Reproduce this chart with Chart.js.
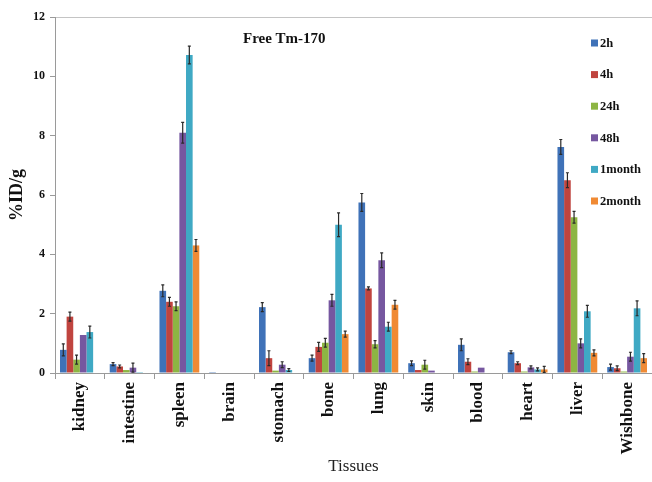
<!DOCTYPE html>
<html>
<head>
<meta charset="utf-8">
<title>Free Tm-170 biodistribution</title>
<script src="https://cdn.jsdelivr.net/npm/chart.js@4.4.1/dist/chart.umd.min.js"></script>
<style>
  html, body { margin: 0; padding: 0; background: #fff; }
  #wrap { width: 652px; height: 482px; }
</style>
</head>
<body>
<div id="wrap"><canvas id="bio" width="652" height="482"></canvas></div>
<script>
const tissues = ['kidney','intestine','spleen','brain','stomach','bone','lung','skin','blood','heart','liver','Wishbone'];
const timepoints = ['2h','4h','24h','48h','1month','2month'];
const colors = ['#3F72B8','#C0443F','#8DB543','#7657A0','#3FA9C4','#F08A34'];

// %ID/g per tissue, one array per timepoint
const v2h     = [0.78, 0.30, 2.77, 0.03, 2.22, 0.50, 5.75, 0.33, 0.95, 0.70, 7.62, 0.20];
const v4h     = [1.90, 0.22, 2.40, 0,    0.50, 0.88, 2.85, 0.10, 0.38, 0.33, 6.50, 0.16];
const v24h    = [0.45, 0.10, 2.25, 0,    0.08, 1.02, 0.97, 0.28, 0.05, 0.05, 5.25, 0.05];
const v48h    = [1.28, 0.18, 8.10, 0,    0.28, 2.45, 3.80, 0.08, 0.18, 0.19, 1.00, 0.55];
const v1month = [1.38, 0.03, 10.72, 0,   0.10, 5.00, 1.56, 0,    0,    0.12, 2.08, 2.18];
const v2month = [0,    0,    4.30, 0,    0,    1.31, 2.30, 0,    0,    0.12, 0.68, 0.50];

// error bar half-lengths (SD)
const e2h     = [0.20, 0.05, 0.20, 0, 0.15, 0.10, 0.30, 0.08, 0.20, 0.05, 0.25, 0.10];
const e4h     = [0.15, 0.05, 0.15, 0, 0.25, 0.15, 0.05, 0,    0.10, 0.05, 0.25, 0.08];
const e24h    = [0.15, 0,    0.15, 0, 0,    0.15, 0.12, 0.15, 0,    0,    0.20, 0];
const e48h    = [0,    0.15, 0.35, 0, 0.10, 0.20, 0.25, 0,    0,    0.05, 0.15, 0.15];
const e1month = [0.20, 0,    0.30, 0, 0.05, 0.40, 0.15, 0,    0,    0.05, 0.20, 0.25];
const e2month = [0,    0,    0.20, 0, 0,    0.10, 0.15, 0,    0,    0.10, 0.10, 0.15];

const yTicks = [0, 2, 4, 6, 8, 10, 12];

const values = [v2h, v4h, v24h, v48h, v1month, v2month];
const errors = [e2h, e4h, e24h, e48h, e1month, e2month];

const serif = '"Liberation Serif", "Times New Roman", serif';

const errorBars = {
  id: 'errorBars',
  afterDatasetsDraw(chart) {
    const ctx = chart.ctx, y = chart.scales.y;
    ctx.save();
    ctx.strokeStyle = '#2a2a2a';
    ctx.lineWidth = 1.2;
    chart.data.datasets.forEach((ds, i) => {
      const meta = chart.getDatasetMeta(i);
      meta.data.forEach((bar, j) => {
        const err = ds.err[j];
        if (!err) return;
        const v = ds.data[j];
        const top = y.getPixelForValue(v + err), bot = y.getPixelForValue(Math.max(v - err, 0));
        ctx.beginPath();
        ctx.moveTo(bar.x, top); ctx.lineTo(bar.x, bot);
        ctx.moveTo(bar.x - 1.5, top); ctx.lineTo(bar.x + 1.5, top);
        ctx.moveTo(bar.x - 1.5, bot); ctx.lineTo(bar.x + 1.5, bot);
        ctx.stroke();
      });
    });
    ctx.restore();
  }
};

// title and legend sit inside the plot area
const inPlotText = {
  id: 'inPlotText',
  afterDraw(chart) {
    const ctx = chart.ctx;
    ctx.save();
    ctx.fillStyle = '#111';
    ctx.font = 'bold 15px ' + serif;
    ctx.textBaseline = 'middle';
    ctx.textAlign = 'left';
    ctx.fillText('Free Tm-170', 243, 39);
    ctx.font = 'bold 12.5px ' + serif;
    chart.data.datasets.forEach((ds, i) => {
      const cy = 43 + i * 31.6;
      ctx.fillStyle = ds.backgroundColor;
      ctx.fillRect(591, cy - 3.5, 7, 7);
      ctx.fillStyle = '#111';
      ctx.fillText(ds.label, 600, cy + 0.5);
    });
    ctx.restore();
  }
};

new Chart(document.getElementById('bio'), {
  type: 'bar',
  data: {
    labels: tissues,
    datasets: timepoints.map((t, i) => ({
      label: t,
      data: values[i],
      err: errors[i],
      backgroundColor: colors[i],
      borderWidth: 0,
      barPercentage: 1,
      categoryPercentage: 0.8
    }))
  },
  options: {
    responsive: false,
    animation: false,
    layout: { padding: { top: 17, right: 0, left: 0, bottom: 0 } },
    plugins: { legend: { display: false }, tooltip: { enabled: false } },
    scales: {
      x: {
        offset: true,
        grid: { offset: true, drawOnChartArea: false, tickLength: 6, tickColor: '#9a9a9a' },
        border: { color: '#9a9a9a' },
        ticks: { color: '#111', minRotation: 90, maxRotation: 90, autoSkip: false, padding: 3,
                 font: { family: serif, size: 17, weight: 'bold' } },
        title: { display: true, text: 'Tissues', color: '#222', padding: { top: 2, bottom: 5 },
                 font: { family: serif, size: 17 } },
        afterFit(scale) { scale.height = 109; }
      },
      y: {
        min: 0, max: 12,
        afterBuildTicks(scale) { scale.ticks = yTicks.map(v => ({ value: v })); },
        grid: { drawOnChartArea: true, tickLength: 5, tickColor: '#9a9a9a',
                color: c => c.tick && c.tick.value === 12 ? '#c4c4c4' : 'rgba(0,0,0,0)' },
        border: { color: '#9a9a9a' },
        ticks: { color: '#111', padding: 5, font: { family: serif, size: 12, weight: 'bold' } },
        title: { display: true, text: '%ID/g', color: '#111', padding: { top: 7, bottom: 0 },
                 font: { family: serif, size: 18, weight: 'bold' } },
        afterFit(scale) { scale.width = 55; }
      }
    }
  },
  plugins: [errorBars, inPlotText]
});
</script>
</body>
</html>
